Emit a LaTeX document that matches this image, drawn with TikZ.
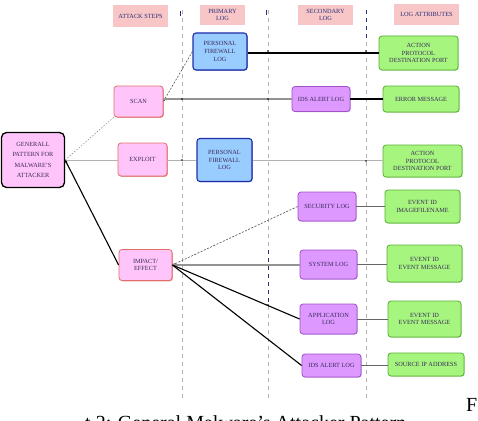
\documentclass[tikz,border=0pt]{standalone}
\usepackage{fontspec}
\setmainfont{Liberation Serif}
\usetikzlibrary{arrows.meta,shadows}
\definecolor{pinkfill}{HTML}{FFC4FA}
\definecolor{pinkline}{HTML}{E0706A}
\definecolor{bluefill}{HTML}{99CCFF}
\definecolor{blueline}{HTML}{1E2FA8}
\definecolor{purpfill}{HTML}{DD99FF}
\definecolor{purpline}{HTML}{A050C8}
\definecolor{greenfill}{HTML}{A6F57E}
\definecolor{greenline}{HTML}{58B035}
\definecolor{hdrfill}{HTML}{F8C6C6}
\definecolor{txt}{HTML}{3A2A5A}
\definecolor{guide}{HTML}{B4B4B4}
\definecolor{navyd}{HTML}{28307A}
\begin{document}
\begin{tikzpicture}[x=1pt,y=-1pt,
  box/.style={rounded corners=3pt, align=center, inner sep=1pt, text=txt,
    font=\fontsize{6.3}{7.6}\selectfont},
  attack/.style={box, fill=pinkfill, draw=pinkline, line width=0.8pt,
    drop shadow={shadow xshift=0.8pt, shadow yshift=-0.8pt, fill=pinkline, opacity=0.8}},
  genbox/.style={box, fill=pinkfill, draw=black, line width=1.3pt, rounded corners=5pt},
  bluebox/.style={box, fill=bluefill, draw=blueline, line width=1.1pt,
    drop shadow={shadow xshift=0.6pt, shadow yshift=-0.6pt, fill=blueline, opacity=0.7}},
  purpbox/.style={box, fill=purpfill, draw=purpline, line width=0.8pt,
    drop shadow={shadow xshift=0.6pt, shadow yshift=-0.6pt, fill=purpline, opacity=0.6}},
  greenbox/.style={box, fill=greenfill, draw=greenline, line width=0.8pt,
    drop shadow={shadow xshift=0.6pt, shadow yshift=-0.6pt, fill=greenline, opacity=0.6}},
  hdr/.style={box, rounded corners=0pt, fill=hdrfill, draw=none, text=navyd},
  guideline/.style={draw=guide, line width=0.6pt, dash pattern=on 4pt off 4pt},
  navydash/.style={draw=navyd, line width=0.9pt, dash pattern=on 4pt off 4pt},
  thinc/.style={draw=gray!80!black, line width=0.5pt},
  greyc/.style={draw=gray!85, line width=1.1pt},
  blackc/.style={draw=black, line width=1.1pt},
  dashc/.style={draw=black!70, line width=0.6pt, dash pattern=on 2pt off 1.5pt},
  dotc/.style={draw=gray, line width=0.5pt, dash pattern=on 1.5pt off 1.5pt},
  jdot/.style={fill=black, radius=0.9pt}
]
\useasboundingbox (0,0) rectangle (478,420);
\fill[white] (0,0) rectangle (478,420);

% guide lines
\coordinate (v1t) at (182,10); \coordinate (v1b) at (182,402);
\coordinate (v2t) at (268,10); \coordinate (v2b) at (268,402);
\coordinate (v3t) at (366,10); \coordinate (v3b) at (366,402);
\draw[guideline] (v1t) -- (v1b);
\draw[guideline] (v2t) -- (v2b);
\draw[guideline] (v3t) -- (v3b);
\draw[draw=navyd, line width=0.8pt] (180,11) -- (180,16);
\draw[draw=navyd, line width=0.8pt] (266,10) -- (266,15);
\draw[navydash] (366,10) -- (366,40);
\draw[navydash] (268,250) -- (268,306);

% headers
\node[hdr, minimum width=55pt, minimum height=22pt] (h1) at (140.5,16) {ATTACK STEPS};
\node[hdr, minimum width=45pt, minimum height=20pt] (h2) at (222.5,15) {PRIMARY\\LOG};
\node[hdr, minimum width=55pt, minimum height=20pt] (h3) at (325.5,15) {SECONDARY\\LOG};
\node[hdr, minimum width=65pt, minimum height=21pt] (h4) at (426.5,14.5) {LOG ATTRIBUTES};

% attack steps
\node[genbox, minimum width=63pt, minimum height=55pt] (gen) at (33,160)
  {GENERALL\\[3pt]PATTERN FOR\\[3pt]MALWARE'S\\[3pt]ATTACKER};
\node[attack, minimum width=49pt, minimum height=31pt] (scan) at (138.5,101.5) {SCAN};
\node[attack, minimum width=49pt, minimum height=33pt] (exploit) at (142.5,159.5) {EXPLOIT};
\node[attack, minimum width=53pt, minimum height=31pt] (impact) at (145.5,265) {IMPACT/\\EFFECT};

% primary logs
\node[bluebox, minimum width=54pt, minimum height=37pt] (pfl1) at (220,51.5) {PERSONAL\\FIREWALL\\LOG};
\node[bluebox, minimum width=55pt, minimum height=43pt] (pfl2) at (224.5,160) {PERSONAL\\FIREWALL\\LOG};

% secondary logs
\node[purpbox, minimum width=58pt, minimum height=25pt] (ids1) at (321,99) {IDS ALERT LOG};
\node[purpbox, minimum width=58pt, minimum height=29pt] (sec) at (327,206.5) {SECURITY LOG};
\node[purpbox, minimum width=57pt, minimum height=29pt] (sys) at (328.5,264.5) {SYSTEM LOG};
\node[purpbox, minimum width=57pt, minimum height=30pt] (app) at (328.5,319) {APPLICATION\\LOG};
\node[purpbox, minimum width=59pt, minimum height=23pt] (ids2) at (331.5,365.5) {IDS ALERT LOG};

% log attributes
\node[greenbox, minimum width=79pt, minimum height=34pt] (g1) at (418.5,53) {ACTION\\PROTOCOL\\DESTINATION PORT};
\node[greenbox, minimum width=76pt, minimum height=26pt] (g2) at (421,99) {ERROR MESSAGE};
\node[greenbox, minimum width=79pt, minimum height=32pt] (g3) at (422.5,161) {ACTION\\PROTOCOL\\DESTINATION PORT};
\node[greenbox, minimum width=75pt, minimum height=33pt] (g4) at (422.5,206.5) {EVENT ID\\IMAGEFILENAME};
\node[greenbox, minimum width=75pt, minimum height=37pt] (g5) at (424.5,263.5) {EVENT ID\\EVENT MESSAGE};
\node[greenbox, minimum width=73pt, minimum height=36pt] (g6) at (424.5,319) {EVENT ID\\EVENT MESSAGE};
\node[greenbox, minimum width=76pt, minimum height=23pt] (g7) at (426,364.5) {SOURCE IP ADDRESS};

% connectors from general pattern
\draw[dotc] (gen.east) -- (scan.south west);
\draw[thinc, draw=gray!60] (gen.east) -- (exploit.west |- gen.east);
\draw[blackc, {Stealth[length=3pt,width=2.5pt]}-] (gen.east) -- (impact.west);

% scan
\draw[dashc, -{Stealth[length=3pt,width=2.5pt]}] (pfl1.west) -- (scan.east);
\draw[greyc] (scan.east |- ids1.west) -- (ids1.west);
\draw[blackc] (pfl1.east |- g1.west) -- (g1.west);
\draw[blackc] (ids1.east) -- (g2.west);

% exploit
\draw[thinc, draw=gray!60] (exploit.east |- pfl2.west) -- (pfl2.west);
\draw[thinc, draw=gray!60] (pfl2.east) -- (g3.west |- pfl2.east);

% impact
\draw[dashc, -{Stealth[length=3pt,width=2.5pt]}] (sec.west) -- (impact.east);
\draw[greyc] (impact.east) -- (sys.west |- impact.east);
\draw[blackc] (impact.east) -- (app.west);
\draw[blackc] (impact.east) -- (ids2.west);

% secondary to attributes
\draw[thinc] (sec.east) -- (g4.west |- sec.east);
\draw[thinc] (sys.east) -- (g5.west |- sys.east);
\draw[thinc] (app.east) -- (g6.west |- app.east);
\draw[thinc] (ids2.east) -- (g7.west |- ids2.east);

% junction dots
\fill (182,99) circle[jdot]; \fill (268,99) circle[jdot]; \fill (366,99) circle[jdot];
\fill (268,51) circle[jdot]; \fill (366,51) circle[jdot];
\fill (182,160) circle[jdot]; \fill (366,161) circle[jdot];
\fill (268,305) circle[jdot];

% caption fragments
\node[anchor=base west, inner sep=0pt, font=\fontsize{20}{22}\selectfont] (cap) at (85,429)
  {t 2: General Malware's Attacker Pattern};
\node[anchor=base west, inner sep=0pt, font=\fontsize{20}{22}\selectfont] (capf) at (466,411) {F};
\end{tikzpicture}
\end{document}
